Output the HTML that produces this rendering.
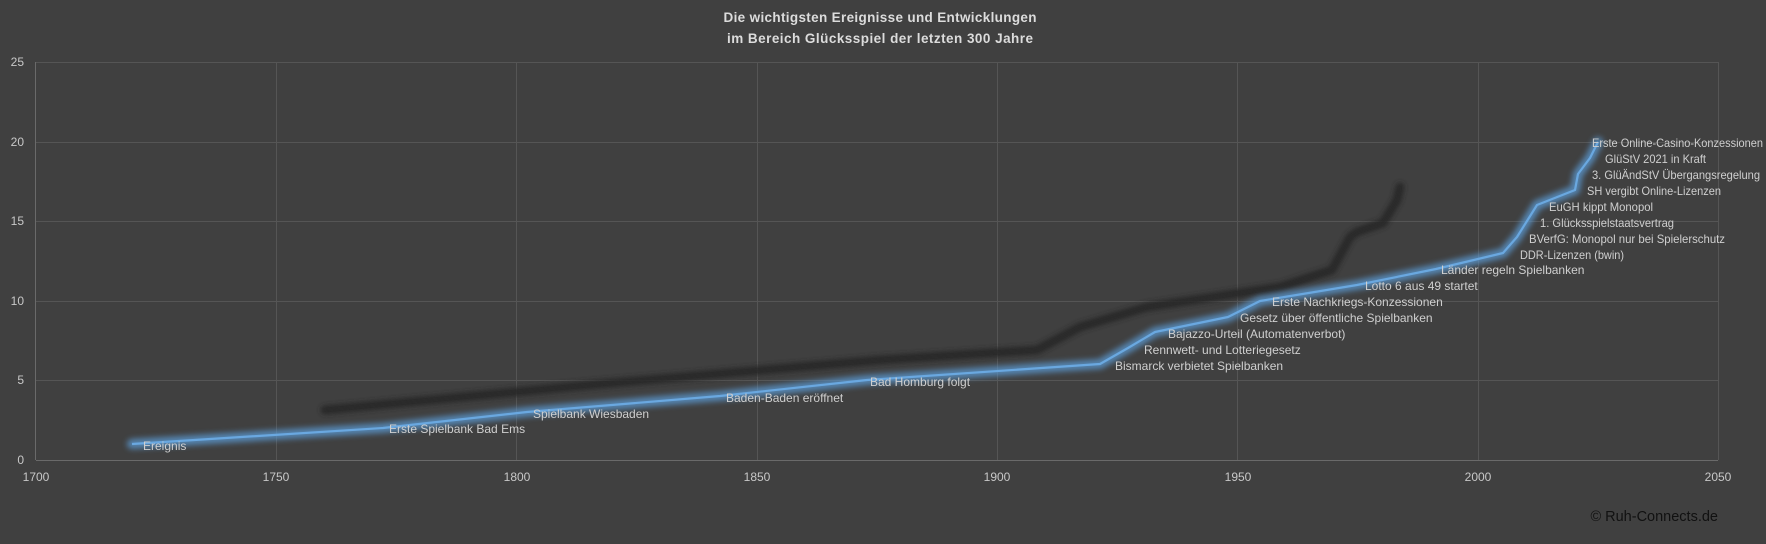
<!DOCTYPE html>
<html><head><meta charset="utf-8"><style>
html,body{margin:0;padding:0;background:#404040;}
svg{display:block;font-family:"Liberation Sans",sans-serif;}
</style></head><body>
<svg width="1766" height="544" viewBox="0 0 1766 544" xmlns="http://www.w3.org/2000/svg">
<defs>
<filter id="blur6" x="-10%" y="-50%" width="120%" height="200%"><feGaussianBlur stdDeviation="3"/></filter>
<filter id="blur3" x="-10%" y="-50%" width="120%" height="200%"><feGaussianBlur stdDeviation="2.5"/></filter>
</defs>
<rect width="1766" height="544" fill="#404040"/>
<text x="880" y="22" text-anchor="middle" font-size="13.5" font-weight="bold" fill="#dcdcdc" textLength="313">Die wichtigsten Ereignisse und Entwicklungen</text>
<text x="880" y="43" text-anchor="middle" font-size="13.5" font-weight="bold" fill="#dcdcdc" textLength="306">im Bereich Glücksspiel der letzten 300 Jahre</text>
<g stroke="#555" stroke-width="1">
<line x1="36" y1="62.5" x2="1718" y2="62.5"/>
<line x1="36" y1="142.5" x2="1718" y2="142.5"/>
<line x1="36" y1="221.5" x2="1718" y2="221.5"/>
<line x1="36" y1="301.5" x2="1718" y2="301.5"/>
<line x1="36" y1="380.5" x2="1718" y2="380.5"/>
<line x1="276.5" y1="62" x2="276.5" y2="460"/>
<line x1="516.5" y1="62" x2="516.5" y2="460"/>
<line x1="757.5" y1="62" x2="757.5" y2="460"/>
<line x1="997.5" y1="62" x2="997.5" y2="460"/>
<line x1="1237.5" y1="62" x2="1237.5" y2="460"/>
<line x1="1478.5" y1="62" x2="1478.5" y2="460"/>
<line x1="1718.5" y1="62" x2="1718.5" y2="460"/>
</g>
<g stroke="#6a6a6a" stroke-width="1">
<line x1="35.5" y1="62" x2="35.5" y2="460"/>
<line x1="36" y1="460.5" x2="1718" y2="460.5"/>
</g>
<g font-size="12" fill="#c8c8c8" text-anchor="end">
<text x="24" y="66">25</text><text x="24" y="146">20</text><text x="24" y="225">15</text>
<text x="24" y="305">10</text><text x="24" y="384">5</text><text x="24" y="464">0</text>
</g>
<g font-size="12" fill="#c8c8c8" text-anchor="middle">
<text x="36" y="481">1700</text><text x="276" y="481">1750</text><text x="517" y="481">1800</text>
<text x="757" y="481">1850</text><text x="997" y="481">1900</text><text x="1238" y="481">1950</text>
<text x="1478" y="481">2000</text><text x="1718" y="481">2050</text>
</g>
<polyline fill="none" stroke="#262626" stroke-width="9" stroke-linejoin="round" stroke-linecap="round" filter="url(#blur3)" opacity="0.9"
points="325,410 600,384 880,360 1037,350 1080,327 1147,307 1280,287 1332,270 1350,237 1357,232 1383,223 1397,200 1400,187"/>
<polyline fill="none" stroke="#5b9bd5" stroke-width="10" stroke-linejoin="round" stroke-linecap="round" filter="url(#blur6)" opacity="0.75"
points="132,444 383,428 527,412 720,396 867,380 1100,364 1128,348 1155,332 1228,317 1260,301 1357,285 1436,269 1503,253 1517,237 1527,221 1537,205 1575,190 1578,174 1590,158 1598,142"/>
<polyline fill="none" stroke="#6aa8e0" stroke-width="2.2" stroke-linejoin="round"
points="132,444 383,428 527,412 720,396 867,380 1100,364 1128,348 1155,332 1228,317 1260,301 1357,285 1436,269 1503,253 1517,237 1527,221 1537,205 1575,190 1578,174 1590,158 1598,142"/>
<g font-size="12" fill="#cfcfcf">
<text x="143" y="450">Ereignis</text>
<text x="389" y="433">Erste Spielbank Bad Ems</text>
<text x="533" y="418">Spielbank Wiesbaden</text>
<text x="726" y="402">Baden-Baden eröffnet</text>
<text x="870" y="386">Bad Homburg folgt</text>
<text x="1115" y="370">Bismarck verbietet Spielbanken</text>
<text x="1144" y="354">Rennwett- und Lotteriegesetz</text>
<text x="1168" y="338">Bajazzo-Urteil (Automatenverbot)</text>
<text x="1240" y="322">Gesetz über öffentliche Spielbanken</text>
<text x="1272" y="306">Erste Nachkriegs-Konzessionen</text>
<text x="1365" y="290">Lotto 6 aus 49 startet</text>
<text x="1441" y="274">Länder regeln Spielbanken</text>
<text x="1520" y="259" textLength="104" lengthAdjust="spacingAndGlyphs">DDR-Lizenzen (bwin)</text>
<text x="1529" y="243" textLength="196" lengthAdjust="spacingAndGlyphs">BVerfG: Monopol nur bei Spielerschutz</text>
<text x="1540" y="227" textLength="134" lengthAdjust="spacingAndGlyphs">1. Glücksspielstaatsvertrag</text>
<text x="1549" y="211" textLength="104" lengthAdjust="spacingAndGlyphs">EuGH kippt Monopol</text>
<text x="1587" y="195" textLength="134" lengthAdjust="spacingAndGlyphs">SH vergibt Online-Lizenzen</text>
<text x="1592" y="179" textLength="168" lengthAdjust="spacingAndGlyphs">3. GlüÄndStV Übergangsregelung</text>
<text x="1605" y="163" textLength="101" lengthAdjust="spacingAndGlyphs">GlüStV 2021 in Kraft</text>
<text x="1592" y="147" textLength="171" lengthAdjust="spacingAndGlyphs">Erste Online-Casino-Konzessionen</text>
</g>
<text x="1718" y="521" text-anchor="end" font-size="14.5" fill="#111">© Ruh-Connects.de</text>
</svg>
</body></html>
